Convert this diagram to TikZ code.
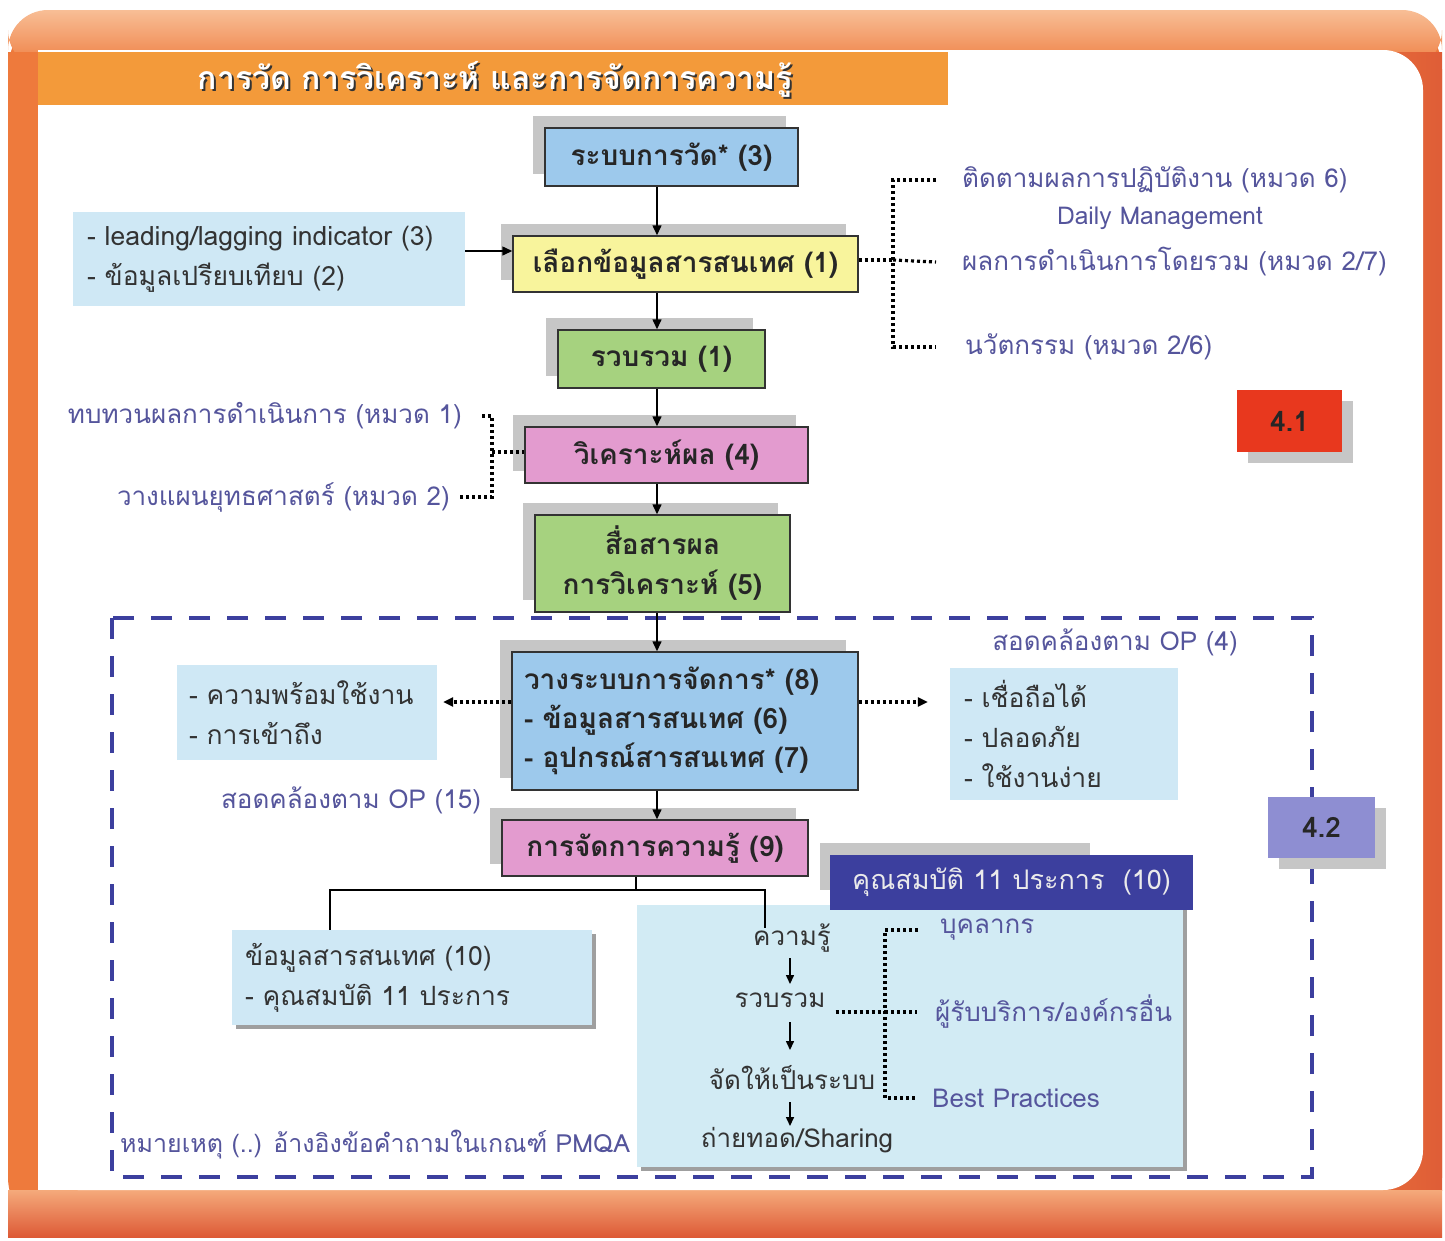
\documentclass[tikz,border=0pt]{standalone}
\usepackage{fontspec}
\setmainfont[Script=Thai]{Loma}
\usetikzlibrary{arrows.meta,calc,shadows}
\definecolor{frameA}{HTML}{F8BE96}
\definecolor{frameB}{HTML}{EE7A3C}
\definecolor{frameC}{HTML}{DD5A36}
\definecolor{titleor}{HTML}{F39A3A}
\definecolor{bxblue}{HTML}{9DC9EC}
\definecolor{bxyellow}{HTML}{F8F49C}
\definecolor{bxgreen}{HTML}{A6D27F}
\definecolor{bxpink}{HTML}{E39BCF}
\definecolor{ltblue}{HTML}{CFE8F5}
\definecolor{ltblue2}{HTML}{D2EBF4}
\definecolor{shgray}{HTML}{C6C6C6}
\definecolor{navy}{HTML}{3C3F9E}
\definecolor{txpurple}{HTML}{55559C}
\definecolor{red41}{HTML}{E8381E}
\definecolor{lav}{HTML}{8E8ED2}
\definecolor{txdark}{HTML}{333333}
\tikzset{
  mainbox/.style={draw=black!80, line width=1.5pt, inner sep=0pt, align=center,
    font=\bfseries\fontsize{28}{40}\selectfont, text=black!85,
    general shadow={fill=shgray, shadow xshift=-12pt, shadow yshift=12pt}},
  infobox/.style={fill=ltblue, inner sep=0pt, align=left, text=txdark,
    font=\fontsize{26.5}{40}\selectfont},
  note/.style={text=txpurple, font=\fontsize{26}{30}\selectfont, inner sep=0pt},
  dotl/.style={line width=3.2pt, dash pattern=on 3pt off 3pt},
  arr/.style={-{Triangle[length=10pt,width=9pt]}, line width=1.5pt},
  sarr/.style={-{Triangle[length=9pt,width=8pt]}, line width=1.5pt},
  tagbox/.style={inner sep=0pt, font=\bfseries\fontsize{28}{32}\selectfont, text=black!85,
    general shadow={fill=shgray, shadow xshift=11pt, shadow yshift=-11pt}}
}
\begin{document}
\begin{tikzpicture}[x=1pt,y=-1pt]
\useasboundingbox (0,0) rectangle (1445,1240);
\fill[white] (0,0) rectangle (1445,1240);
% frame
\fill[frameB, rounded corners=60pt] (8,10) rectangle (1442,1237);
\shade[top color=frameA, bottom color=frameB, rounded corners=40pt] (8,10) rectangle (1442,70);
\fill[frameB] (8,52) rectangle (1442,70);
\shade[left color=frameB, right color=frameC!90!frameB] (1300,52) rectangle (1442,1190);
\shade[top color=frameA!70!frameB, bottom color=frameC] (8,1190) rectangle (1442,1237);
\fill[white, rounded corners=40pt] (38,50) -- (1423,50) -- (1423,1190) -- (38,1190) -- cycle;
\fill[white] (38,50) rectangle (1300,1190);
% title
\fill[titleor] (38,52) rectangle (948,105);
\node[font=\bfseries\fontsize{32}{36}\selectfont, text=black!80] (titsh) at (497,81) {การวัด การวิเคราะห์ และการจัดการความรู้};
\node[font=\bfseries\fontsize{32}{36}\selectfont, text=white] (tit) at (495,79) {การวัด การวิเคราะห์ และการจัดการความรู้};

% main flow
\coordinate (ax) at (657,0);
\node[mainbox, fill=bxblue, minimum width=253pt, minimum height=58pt] (b1) at (671.5,157) {ระบบการวัด* (3)};
\node[mainbox, fill=bxyellow, minimum width=345pt, minimum height=56pt] (b2) at (685.5,264) {เลือกข้อมูลสารสนเทศ (1)};
\node[mainbox, fill=bxgreen, minimum width=207pt, minimum height=58pt] (b3) at (661.5,359) {รวบรวม (1)};
\node[mainbox, fill=bxpink, minimum width=283pt, minimum height=56pt] (b4) at (666.5,455) {วิเคราะห์ผล (4)};
\node[mainbox, fill=bxgreen, minimum width=255pt, minimum height=97pt] (b5) at (662.5,563.5) {สื่อสารผล\\การวิเคราะห์ (5)};

% dashed region
\draw[navy, line width=4.5pt, dash pattern=on 21pt off 17pt] (112,618) rectangle (1312,1177);

\node[mainbox, fill=bxblue, minimum width=346pt, minimum height=138pt, text width=322pt, align=left,
  font=\bfseries\fontsize{28}{39}\selectfont] (b6) at (685,721) {วางระบบการจัดการ* (8)\\- ข้อมูลสารสนเทศ (6)\\- อุปกรณ์สารสนเทศ (7)};
\node[mainbox, fill=bxpink, minimum width=306pt, minimum height=56pt] (b7) at (655,848) {การจัดการความรู้ (9)};

\draw[arr] (b1.south -| ax) -- (b2.north -| ax);
\draw[arr] (b2.south -| ax) -- (b3.north -| ax);
\draw[arr] (b3.south -| ax) -- (b4.north -| ax);
\draw[arr] (b4.south -| ax) -- (b5.north -| ax);
\draw[arr] (b5.south -| ax) -- (b6.north -| ax);
\draw[arr] (b6.south -| ax) -- (b7.north -| ax);

% left input box
\node[infobox, minimum width=392pt, minimum height=94pt, text width=364pt] (lead) at (269,259) {- leading/lagging indicator (3)\\- ข้อมูลเปรียบเทียบ (2)};
\coordinate (ly) at (0,251);
\draw[arr] (lead.east |- ly) -- (b2.west |- ly);

% right texts
\node[note, anchor=west] (tr1) at (962,180) {ติดตามผลการปฏิบัติงาน (หมวด 6)};
\node[note, font=\fontsize{24.5}{28}\selectfont] (tdm) at (1160,218) {Daily Management};
\node[note, anchor=west] (tr2) at (962,262) {ผลการดำเนินการโดยรวม (หมวด 2/7)};
\node[note, anchor=west] (tr3) at (965,347) {นวัตกรรม (หมวด 2/6)};
\coordinate (rb) at (893,260);
\draw[dotl] (b2.east |- rb) -- (rb);
\draw[dotl] ([xshift=-26pt]tr1.west) -| (rb) |- ([xshift=-29pt]tr3.west);
\draw[dotl] (rb) -- ([xshift=-26pt]tr2.west);

% left texts
\node[note, anchor=east] (tl1) at (462,416) {ทบทวนผลการดำเนินการ (หมวด 1)};
\node[note, anchor=east] (tl2) at (450,497) {วางแผนยุทธศาสตร์ (หมวด 2)};
\coordinate (lb) at (492,452);
\draw[dotl] ([xshift=20pt]tl1.east) -| (lb) |- ([xshift=10pt]tl2.east);
\draw[dotl] (lb) -- (b4.west |- lb);

% 4.1
\node[tagbox, fill=red41, minimum width=105pt, minimum height=62pt] (t41) at (1289.5,421) {4.1};

% inside dashed region
\node[infobox, minimum width=260pt, minimum height=95pt, text width=236pt] (avail) at (307,712.5) {- ความพร้อมใช้งาน\\- การเข้าถึง};
\node[infobox, minimum width=228pt, minimum height=132pt, text width=200pt] (rel) at (1064,734) {- เชื่อถือได้\\- ปลอดภัย\\- ใช้งานง่าย};
\coordinate (dy) at (0,702);
\draw[dotl, -{Triangle[length=10pt,width=9pt]}] (b6.west |- dy) -- ([xshift=6pt]avail.east |- dy);
\draw[dotl, -{Triangle[length=10pt,width=9pt]}] (b6.east |- dy) -- ([xshift=-22pt]rel.west |- dy);
\node[note] (op15) at (351,800) {สอดคล้องตาม OP (15)};
\node[note] (op4) at (1115,642) {สอดคล้องตาม OP (4)};

% 4.2
\node[tagbox, fill=lav, minimum width=107pt, minimum height=61pt] (t42) at (1321.5,827.5) {4.2};

% lower part
\node[infobox, fill=ltblue, minimum width=360pt, minimum height=95pt, text width=334pt,
  general shadow={fill=gray!75, shadow xshift=4pt, shadow yshift=-4pt}] (dbox) at (412,977.5) {ข้อมูลสารสนเทศ (10)\\- คุณสมบัติ 11 ประการ};
\node[fill=ltblue2, minimum width=546pt, minimum height=262pt, inner sep=0pt,
  general shadow={fill=gray!75, shadow xshift=4pt, shadow yshift=-4pt}] (kb) at (910,1036) {};
\fill[shgray] (820,843) rectangle (1090,890);
\node[fill=navy, text=white!92!black, minimum width=363pt, minimum height=55pt, inner sep=0pt,
  font=\fontsize{27}{30}\selectfont] (hb) at (1011.5,882.5) {คุณสมบัติ 11 ประการ~~(10)};

\node[note, text=txdark] (k1) at (792,938) {ความรู้};
\node[note, text=txdark] (k2) at (780,1000) {รวบรวม};
\node[note, text=txdark] (k3) at (792,1078) {จัดให้เป็นระบบ};
\node[note, text=txdark] (k4) at (797,1140) {ถ่ายทอด/Sharing};
\coordinate (ax2) at (790,0);
\draw[sarr] ([yshift=-20pt]k1.center -| ax2) -- ([yshift=16pt]k2.center -| ax2);
\draw[sarr] ([yshift=-22pt]k2.center -| ax2) -- ([yshift=28pt]k3.center -| ax2);
\draw[sarr] ([yshift=-24pt]k3.center -| ax2) -- ([yshift=14pt]k4.center -| ax2);

\coordinate (tx) at (636,890);
\coordinate (jl) at (330,890);
\coordinate (jr) at (765,890);
\draw[line width=1.5pt] (b7.south -| tx) -- (tx);
\draw[line width=1.5pt] (dbox.north -| jl) -- (jl) -- (jr) -- ([yshift=-4pt]k1.north -| jr);

\node[note, anchor=west] (p1) at (940,930) {บุคลากร};
\node[note, anchor=west] (p2) at (935,1012) {ผู้รับบริการ/องค์กรอื่น};
\node[note, anchor=west] (p3) at (932,1098) {Best Practices};
\coordinate (kbr) at (885,1012);
\draw[dotl] ([xshift=10pt]k2.east |- kbr) -- (kbr);
\draw[dotl] ([xshift=-22pt]p1.west) -| (kbr) |- ([xshift=-16pt]p3.west);
\draw[dotl] (kbr) -- ([xshift=-18pt]p2.west);

\node[note, anchor=west, font=\fontsize{25}{30}\selectfont] (memo) at (120,1145) {หมายเหตุ (..) อ้างอิงข้อคำถามในเกณฑ์ PMQA};
\end{tikzpicture}
\end{document}
